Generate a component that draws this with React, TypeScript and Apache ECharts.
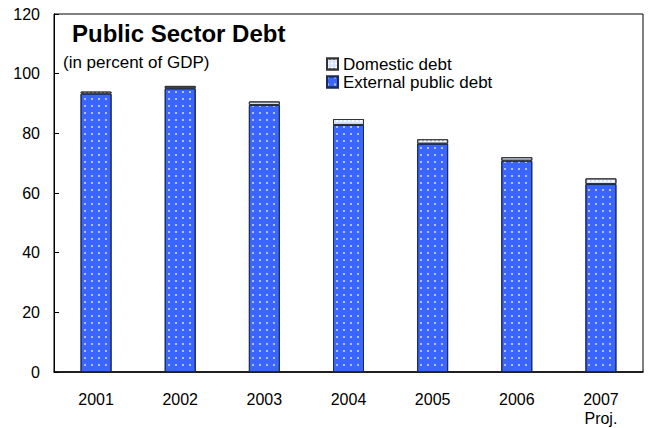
import React, { useEffect, useRef } from "react";
import * as echarts from "echarts";

const categories = ["2001", "2002", "2003", "2004", "2005", "2006", "2007\nProj."];
const externalDebt = [93.3, 95.1, 89.5, 82.8, 76.5, 70.8, 63.0];
const domesticDebt = [0.7, 0.8, 1.2, 2.0, 1.5, 1.2, 1.9];
const yTicks = [0, 20, 40, 60, 80, 100, 120];

const FONT = "'Liberation Sans', Arial, sans-serif";

export default function App() {
  const ref = useRef<HTMLDivElement>(null);
  useEffect(() => {
    if (!ref.current) return;
    const chart = echarts.init(ref.current, null, { renderer: "svg" });
    chart.setOption({
      animation: false,
      backgroundColor: "#ffffff",
      textStyle: { fontFamily: FONT },
      graphic: [
        {
          type: "text",
          left: 72,
          top: 21,
          style: { text: "Public Sector Debt", font: `bold 24px ${FONT}`, fill: "#000" },
        },
        {
          type: "text",
          left: 63,
          top: 54,
          style: { text: "(in percent of GDP)", font: `17px ${FONT}`, fill: "#000" },
        },
      ],
      legend: {
        orient: "vertical",
        left: 326,
        top: 55,
        padding: 0,
        itemWidth: 11,
        itemHeight: 11,
        itemGap: 0,
        icon: "rect",
        textStyle: { fontFamily: FONT, fontSize: 17, lineHeight: 18, color: "#000" },
        data: ["Domestic debt", "External public debt"],
      },
      grid: {
        left: 54,
        right: 8,
        top: 14,
        bottom: 56,
        show: true,
        borderColor: "#000",
        borderWidth: 1,
      },
      xAxis: {
        type: "category",
        data: categories,
        axisLine: { lineStyle: { color: "#000", width: 1.5 } },
        axisTick: { inside: true, length: 5, lineStyle: { color: "#000" } },
        axisLabel: {
          fontFamily: FONT,
          fontSize: 16,
          color: "#000",
          margin: 18,
          lineHeight: 19,
        },
      },
      yAxis: {
        type: "value",
        min: yTicks[0],
        max: yTicks[yTicks.length - 1],
        interval: 20,
        axisLine: { show: true, lineStyle: { color: "#000", width: 1 } },
        axisTick: { show: true, inside: true, length: 5, lineStyle: { color: "#000" } },
        splitLine: { show: false },
        axisLabel: { fontFamily: FONT, fontSize: 16, color: "#000", margin: 14 },
      },
      series: [
        {
          name: "External public debt",
          type: "bar",
          stack: "debt",
          barWidth: 31,
          data: externalDebt,
          itemStyle: {
            color: "#3a66ff",
            borderColor: "#1a2a5a",
            borderWidth: 1,
            decal: {
              symbol: "rect",
              symbolSize: 1,
              color: "rgba(255,255,255,0.6)",
              dashArrayX: [[1.5, 4.5]],
              dashArrayY: [1.5, 4.5],
              rotation: 0,
            },
          },
        },
        {
          name: "Domestic debt",
          type: "bar",
          stack: "debt",
          barWidth: 31,
          data: domesticDebt,
          itemStyle: {
            color: "#d6e4ff",
            borderColor: "#333",
            borderWidth: 1,
            decal: {
              symbol: "rect",
              symbolSize: 1,
              color: "rgba(255,255,255,0.9)",
              dashArrayX: [[1.5, 1.5]],
              dashArrayY: [1.5, 1.5],
              rotation: 0,
            },
          },
        },
      ],
    });
    return () => chart.dispose();
  }, []);
  return <div ref={ref} style={{ width: 651, height: 428, position: "absolute", left: 0, top: 0 }} />;
}
